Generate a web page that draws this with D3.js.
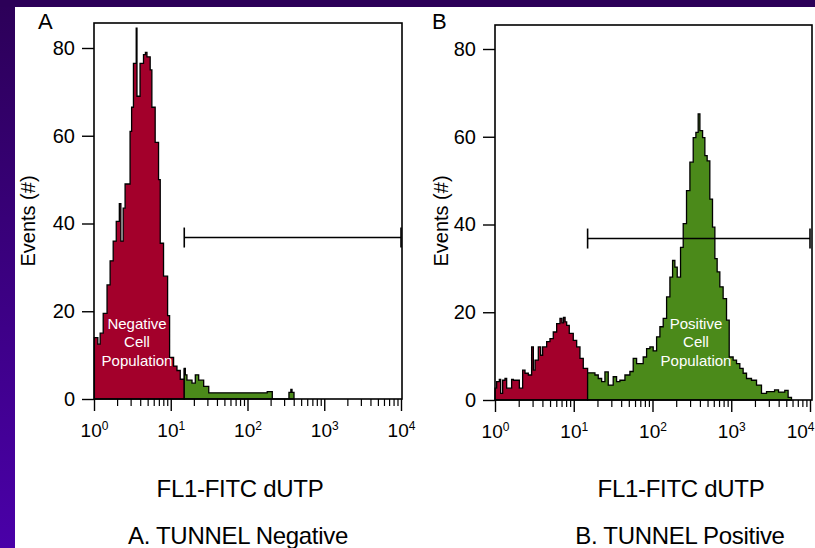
<!DOCTYPE html>
<html><head><meta charset="utf-8">
<script src="https://cdn.jsdelivr.net/npm/d3@7"></script>
<style>html,body{margin:0;padding:0;background:#fff}svg{display:block}text{font-family:"Liberation Sans",Arial,sans-serif}</style>
</head><body><svg id="c" width="815" height="548"></svg>
<script>
// ---- data ----
const yTicks = [0, 20, 40, 60, 80];
const decadeTicks = [1, 10, 100, 1000, 10000];
const decadeExp = ["0", "1", "2", "3", "4"];
const gateExp = 1.176;         // log10 of the FL1 threshold for the positive population
const gateLevel = 36.8;        // events level where the gate marker is drawn
const panelLetters = ["A", "B"];
const panelTitles = ["A. TUNNEL Negative", "B. TUNNEL Positive"];
const xTitle = "FL1-FITC dUTP";
const yTitle = "Events (#)";
const popLabels = [["Negative", "Cell", "Population"], ["Positive", "Cell", "Population"]];
// histogram bins: log10(FL1) at bin start, event count
const negLog = [0.005, 0.05, 0.08, 0.12, 0.17, 0.21, 0.25, 0.29, 0.33, 0.35, 0.38, 0.405, 0.47, 0.49, 0.514, 0.55, 0.56, 0.60, 0.645, 0.67, 0.69, 0.732, 0.754, 0.797, 0.841, 0.863, 0.906, 0.959, 0.985, 1.037, 1.081, 1.124, 1.176, 1.19, 1.211, 1.277, 1.32, 1.364, 1.429, 1.495, 2.257, 2.323, 2.54, 2.565, 2.58, 2.606];
const negCount = [14, 12.5, 15, 19.5, 26, 31.5, 36, 40.5, 44.5, 36, 43.5, 49, 61, 66.5, 76.5, 84.5, 69, 76.5, 78.5, 79, 78, 75, 66.5, 58.5, 50, 35.5, 28, 19, 9.5, 7.5, 6.5, 4.5, 7, 5.5, 4.3, 3.6, 5.5, 4.3, 2.9, 1.4, 1.7, 0, 1.5, 2.2, 1.5, 0];
const posLog = [0, 0.021, 0.055, 0.072, 0.097, 0.127, 0.148, 0.211, 0.233, 0.309, 0.351, 0.381, 0.423, 0.465, 0.487, 0.508, 0.55, 0.58, 0.605, 0.656, 0.698, 0.74, 0.783, 0.825, 0.85, 0.87, 0.89, 0.91, 0.943, 0.994, 1.037, 1.079, 1.121, 1.176, 1.269, 1.311, 1.354, 1.396, 1.438, 1.501, 1.544, 1.586, 1.65, 1.713, 1.755, 1.798, 1.882, 1.925, 1.967, 2.009, 2.052, 2.094, 2.136, 2.179, 2.221, 2.255, 2.284, 2.314, 2.356, 2.39, 2.432, 2.475, 2.517, 2.551, 2.58, 2.602, 2.636, 2.665, 2.694, 2.728, 2.762, 2.792, 2.821, 2.855, 2.897, 2.94, 2.974, 3.024, 3.067, 3.109, 3.151, 3.194, 3.257, 3.321, 3.384, 3.448, 3.55, 3.6, 3.68, 3.722, 3.765];
const posCount = [2.7, 4.2, 4.7, 1.5, 4.5, 4.9, 2.7, 4.7, 4.5, 2.7, 6.8, 6.1, 5.7, 12.1, 6.8, 9.1, 12.1, 10.2, 12.1, 13.3, 14, 15.5, 17.4, 18.6, 17.6, 18.8, 17.8, 17, 15.2, 13.6, 12.1, 9.5, 7.2, 6.2, 5.7, 4.9, 4.2, 6.4, 3.4, 5.3, 4.2, 4.5, 5.7, 6.5, 9.5, 8.3, 9.8, 11.7, 12.1, 11.2, 14.4, 16.7, 18.6, 23.5, 28, 31.8, 30.3, 28, 34.8, 40.2, 47.7, 54.2, 59.8, 61, 65.2, 61.4, 59.8, 55.7, 54.5, 45.8, 39.4, 32.2, 29.2, 25.8, 23.1, 18.2, 9.8, 9.1, 8.3, 7.2, 6.1, 4.9, 4.5, 3.4, 1.5, 1.9, 2.3, 1.8, 2.2, 0.6, 0];

const RED = "#a3002b", GREEN = "#4b8a1a";
const FONT = "Liberation Sans, Arial, sans-serif";

const svg = d3.select("#c");
const defs = svg.append("defs");
const lg = defs.append("linearGradient").attr("id", "side").attr("x1", 0).attr("y1", 0).attr("x2", 0).attr("y2", 1);
lg.append("stop").attr("offset", 0).attr("stop-color", "#2c0058");
lg.append("stop").attr("offset", 1).attr("stop-color", "#4a00a8");
svg.append("rect").attr("width", 815).attr("height", 548).attr("fill", "url(#side)");
svg.append("rect").attr("width", 815).attr("height", 7).attr("fill", "#2c0058");
svg.append("rect").attr("x", 15).attr("y", 7).attr("width", 800).attr("height", 541).attr("fill", "#fff");

const panels = [
  {left: 94, right: 401, frameRight: 402, top: 23, y0: 399, y80: 48, log: negLog, count: negCount,
   letterX: 38, yTitleX: 35, popX: 137, xTitleX: 240, titleX: 238},
  {left: 495, right: 810, frameRight: 812, top: 25, y0: 400, y80: 49, log: posLog, count: posCount,
   letterX: 432, yTitleX: 448, popX: 696, xTitleX: 681, titleX: 680}
];

panels.forEach((p, i) => {
  const g = svg.append("g");
  const x = d3.scaleLog().domain([1, 1e4]).range([p.left, p.right]);
  const y = d3.scaleLinear().domain([0, 80]).range([p.y0, p.y80]);
  const pts = p.log.map((l, j) => ({e: l, v: Math.pow(10, l), c: p.count[j]}));
  const redPts = pts.filter(d => d.e <= gateExp + 1e-9);
  const greenPts = pts.filter(d => d.e >= gateExp - 1e-9);
  const area = d3.area().curve(d3.curveStepAfter).x(d => x(d.v)).y0(y(0)).y1(d => y(d.c));
  g.append("path").datum(redPts).attr("d", area).attr("fill", RED).attr("stroke", "#000").attr("stroke-width", 1.3);
  g.append("path").datum(greenPts).attr("d", area).attr("fill", GREEN).attr("stroke", "#000").attr("stroke-width", 1.3);

  g.append("rect").attr("x", p.left).attr("y", p.top).attr("width", p.frameRight - p.left).attr("height", p.y0 - p.top)
    .attr("fill", "none").attr("stroke", "#000").attr("stroke-width", 1.6);

  const ya = g.append("g").attr("transform", `translate(${p.left},0)`)
    .call(d3.axisLeft(y).tickValues(yTicks).tickSize(12).tickPadding(7).tickFormat(d3.format("d")));
  ya.select(".domain").remove();
  ya.selectAll("line").attr("stroke-width", 1.4);
  ya.selectAll("text").attr("font-size", 20).attr("fill", "#000").attr("font-family", FONT);

  const minor = [];
  for (let k = 0; k < 4; k++) for (let m = 2; m <= 9; m++) minor.push(m * Math.pow(10, k));
  const xm = g.append("g").attr("transform", `translate(0,${p.y0})`)
    .call(d3.axisBottom(x).tickValues(minor).tickSize(7).tickFormat(""));
  xm.select(".domain").remove();
  xm.selectAll("line").attr("stroke-width", 1.2);
  const xa = g.append("g").attr("transform", `translate(0,${p.y0})`)
    .call(d3.axisBottom(x).tickValues(decadeTicks).tickSize(12).tickFormat(""));
  xa.select(".domain").remove();
  xa.selectAll("line").attr("stroke-width", 1.4);
  xa.selectAll(".tick text").each(function(d, j) {
    const last = (i === 1 && j === decadeTicks.length - 1);
    const t = d3.select(this).attr("y", 38).attr("dy", 0).attr("fill", "#000")
      .attr("font-size", 19).attr("font-family", FONT)
      .attr("text-anchor", last ? "end" : "middle").attr("x", last ? (814 - x(d)) : 0);
    t.append("tspan").text("10");
    t.append("tspan").attr("font-size", 12).attr("dy", -7).text(decadeExp[j]);
  });

  const gy = y(gateLevel), gx = x(Math.pow(10, gateExp));
  g.append("line").attr("x1", gx).attr("x2", x(1e4)).attr("y1", gy).attr("y2", gy).attr("stroke", "#000").attr("stroke-width", 1.4);
  [gx, x(1e4)].forEach(xx => g.append("line").attr("x1", xx).attr("x2", xx).attr("y1", gy - 10).attr("y2", gy + 10).attr("stroke", "#000").attr("stroke-width", 1.6));

  popLabels[i].forEach((s, j) => g.append("text").attr("x", p.popX).attr("y", 329 + j * 18.3)
    .attr("text-anchor", "middle").attr("fill", "#fff").attr("font-size", 15).text(s));

  g.append("text").attr("x", p.letterX).attr("y", 29).attr("font-size", 22).text(panelLetters[i]);
  g.append("text").attr("transform", `translate(${p.yTitleX},221) rotate(-90)`).attr("text-anchor", "middle")
    .attr("font-size", 20).text(yTitle);
  g.append("text").attr("x", p.xTitleX).attr("y", 497).attr("text-anchor", "middle").attr("font-size", 24).attr("letter-spacing", -0.3).text(xTitle);
  g.append("text").attr("x", p.titleX).attr("y", 544).attr("text-anchor", "middle").attr("font-size", 24).attr("letter-spacing", -0.3).text(panelTitles[i]);
});
</script></body></html>
